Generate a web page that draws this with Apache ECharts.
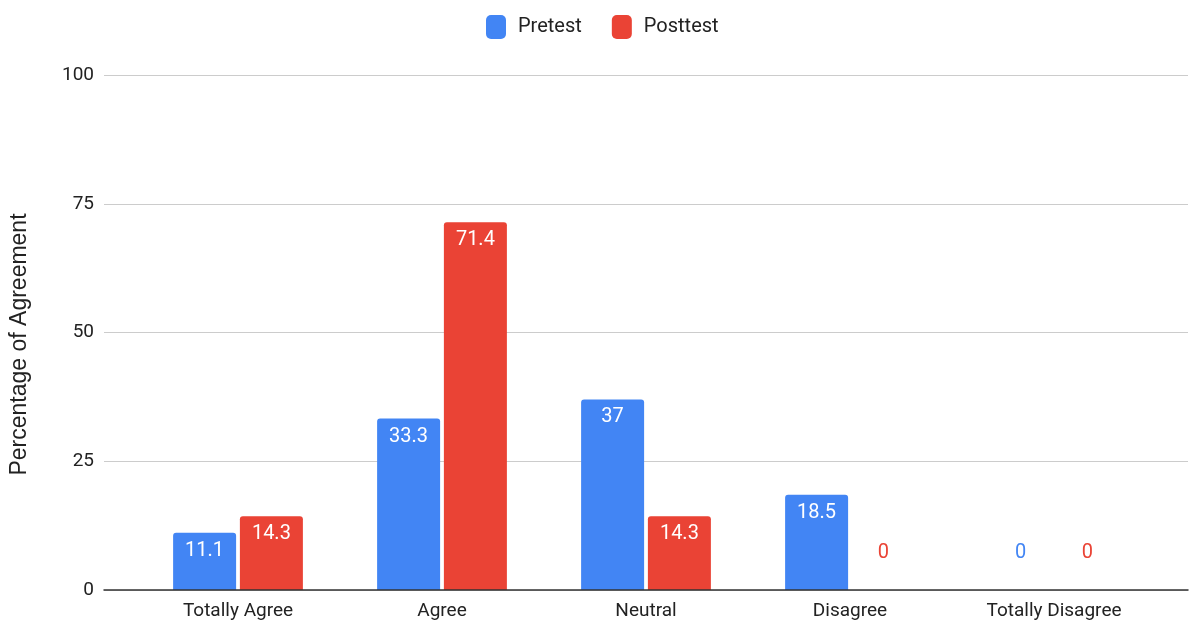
<!DOCTYPE html>
<html>
<head>
<meta charset="utf-8">
<script src="https://cdn.jsdelivr.net/npm/echarts@6/dist/echarts.min.js"></script>
<style>
  html, body { margin: 0; padding: 0; background: #fff; }
  #chart { width: 1190px; height: 628px; }
</style>
</head>
<body>
<div id="chart"></div>
<script>
// data
const categories = ['Totally Agree', 'Agree', 'Neutral', 'Disagree', 'Totally Disagree'];
const pretest = [11.1, 33.3, 37, 18.5, 0];
const posttest = [14.3, 71.4, 14.3, 0, 0];
const yTicks = [0, 25, 50, 75, 100];

const FONT = 'Roboto';
const BLUE = '#4285F4';
const RED = '#EA4335';

// zero values get a coloured label above the baseline, others a white one inside
function toItems(values, color) {
  return values.map(function (v) {
    if (v === 0) {
      return {
        value: v,
        label: { position: 'top', distance: 27, color: color }
      };
    }
    return v;
  });
}

function makeSeries(name, values, color) {
  return {
    name: name,
    type: 'bar',
    xAxisIndex: 1,
    yAxisIndex: 1,
    barWidth: 63,
    barGap: '6%',
    itemStyle: { color: color, borderRadius: [3, 3, 0, 0] },
    label: {
      show: true,
      position: 'insideTop',
      distance: 8,
      color: '#fff',
      fontFamily: FONT,
      fontSize: 20
    },
    data: toItems(values, color)
  };
}

const chart = echarts.init(document.getElementById('chart'));

chart.setOption({
  animation: false,
  backgroundColor: '#fff',
  textStyle: { fontFamily: FONT },
  legend: {
    top: 10,
    left: 481,
    itemWidth: 20,
    itemHeight: 24,
    itemGap: 30,
    icon: 'roundRect',
    textStyle: { fontFamily: FONT, fontSize: 20, color: '#222', padding: [0, 0, 0, 7] },
    data: ['Pretest', 'Posttest']
  },
  grid: [
    // wide grid: gridlines, y labels, baseline
    { left: 100, right: 2, top: 75, bottom: 38 },
    // bar grid
    { left: 136, right: 34, top: 75, bottom: 38 }
  ],
  xAxis: [
    {
      gridIndex: 0,
      type: 'category',
      data: [''],
      axisLine: { show: true, lineStyle: { color: '#333', width: 1.5 } },
      axisTick: { show: false },
      axisLabel: { show: false },
      z: 5
    },
    {
      gridIndex: 1,
      type: 'category',
      data: categories,
      axisLine: { show: false },
      axisTick: { show: false },
      axisLabel: { fontFamily: FONT, fontSize: 19, color: '#222', margin: 12 }
    }
  ],
  yAxis: [
    {
      gridIndex: 0,
      type: 'value',
      min: yTicks[0],
      max: yTicks[yTicks.length - 1],
      interval: 25,
      name: 'Percentage of Agreement',
      nameLocation: 'middle',
      nameRotate: 90,
      nameGap: 73,
      nameTextStyle: {
        fontFamily: 'Liberation Sans',
        fontSize: 23,
        color: '#222',
        padding: [0, 24, 0, 0]
      },
      axisLine: { show: false },
      axisTick: { show: false },
      axisLabel: { fontFamily: FONT, fontSize: 19, color: '#222', margin: 10 },
      splitLine: { lineStyle: { color: '#ccc', width: 1 } }
    },
    {
      gridIndex: 1,
      type: 'value',
      min: yTicks[0],
      max: yTicks[yTicks.length - 1],
      interval: 25,
      show: false,
      splitLine: { show: false }
    }
  ],
  series: [
    makeSeries('Pretest', pretest, BLUE),
    makeSeries('Posttest', posttest, RED)
  ]
});
</script>
</body>
</html>
